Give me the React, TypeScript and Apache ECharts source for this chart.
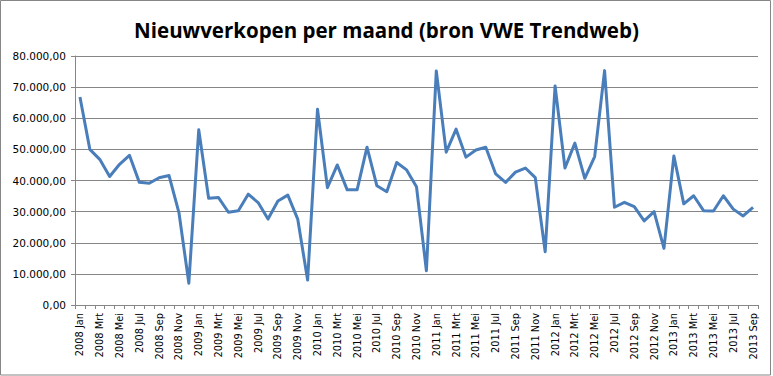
import React, { useEffect, useRef } from "react";
import * as echarts from "echarts";

const years = ["2008", "2009", "2010", "2011", "2012", "2013"];
const monthNames = ["Jan", "Feb", "Mrt", "Apr", "Mei", "Jun", "Jul", "Aug", "Sep", "Okt", "Nov", "Dec"];
const categories: string[] = [];
years.forEach((y) => {
  monthNames.forEach((m, i) => {
    if (y === "2013" && i > 8) return;
    categories.push(`${y} ${m}`);
  });
});

const sales2008 = [66800, 50000, 46800, 41300, 45200, 48100, 39400, 39100, 40900, 41600, 29700, 7000];
const sales2009 = [56300, 34300, 34500, 29800, 30300, 35600, 32900, 27600, 33400, 35300, 27600, 8000];
const sales2010 = [62900, 37700, 45000, 37000, 37000, 50700, 38300, 36400, 45800, 43400, 38000, 11000];
const sales2011 = [75200, 49100, 56500, 47500, 49800, 50700, 42100, 39400, 42700, 44000, 40900, 17100];
const sales2012 = [70400, 44000, 52000, 40700, 47700, 75300, 31400, 33000, 31600, 27000, 30000, 18200];
const sales2013 = [47900, 32500, 35100, 30300, 30200, 35100, 30800, 28600, 31400];
const values = [...sales2008, ...sales2009, ...sales2010, ...sales2011, ...sales2012, ...sales2013];

const yTicks = { min: 0, max: 80000, interval: 10000 };
const titleText = "Nieuwverkopen per maand (bron VWE Trendweb)";

function fmtNL(v: number): string {
  const s = Math.round(v).toString().replace(/\B(?=(\d{3})+(?!\d))/g, ".");
  return s + ",00";
}

export default function App() {
  const ref = useRef<HTMLDivElement>(null);
  useEffect(() => {
    if (!ref.current) return;
    const chart = echarts.init(ref.current, undefined, { renderer: "svg" });
    const axisGrey = "#868686";
    chart.setOption({
      animation: false,
      backgroundColor: "#ffffff",
      title: {
        text: titleText,
        left: "center",
        top: 14,
        textStyle: {
          fontFamily: "Open Sans",
          fontWeight: "bold",
          fontSize: 20.5,
          color: "#000000",
        },
      },
      graphic: [
        {
          type: "rect",
          shape: { x: 0.5, y: 0.5, width: 770, height: 374.5 },
          style: { fill: "none", stroke: axisGrey, lineWidth: 1 },
          silent: true,
        },
      ],
      grid: { left: 75, right: 15, top: 56, bottom: 71, containLabel: false },
      xAxis: {
        type: "category",
        data: categories,
        boundaryGap: true,
        axisLine: { show: true, lineStyle: { color: axisGrey, width: 1 } },
        axisTick: { show: true, interval: 0, length: 4, lineStyle: { color: axisGrey } },
        axisLabel: {
          interval: 1,
          rotate: 90,
          margin: 8,
          color: "#000000",
          fontFamily: "DejaVu Sans",
          fontSize: 9.8,
        },
        splitLine: { show: false },
      },
      yAxis: {
        type: "value",
        min: yTicks.min,
        max: yTicks.max,
        interval: yTicks.interval,
        axisLine: { show: true, lineStyle: { color: axisGrey, width: 1 } },
        axisTick: { show: true, length: 4, lineStyle: { color: axisGrey } },
        axisLabel: {
          formatter: (v: number) => fmtNL(v),
          margin: 9,
          color: "#000000",
          fontFamily: "DejaVu Sans",
          fontSize: 10.5,
        },
        splitLine: { show: true, lineStyle: { color: axisGrey, width: 1 } },
      },
      series: [
        {
          type: "line",
          data: values,
          symbol: "none",
          lineStyle: { color: "#4a7ebb", width: 3, join: "round" },
          itemStyle: { color: "#4a7ebb" },
        },
      ],
    });
    return () => chart.dispose();
  }, []);
  return (
    <div
      ref={ref}
      style={{ position: "fixed", left: 0, top: 0, width: 773, height: 376 }}
    />
  );
}
